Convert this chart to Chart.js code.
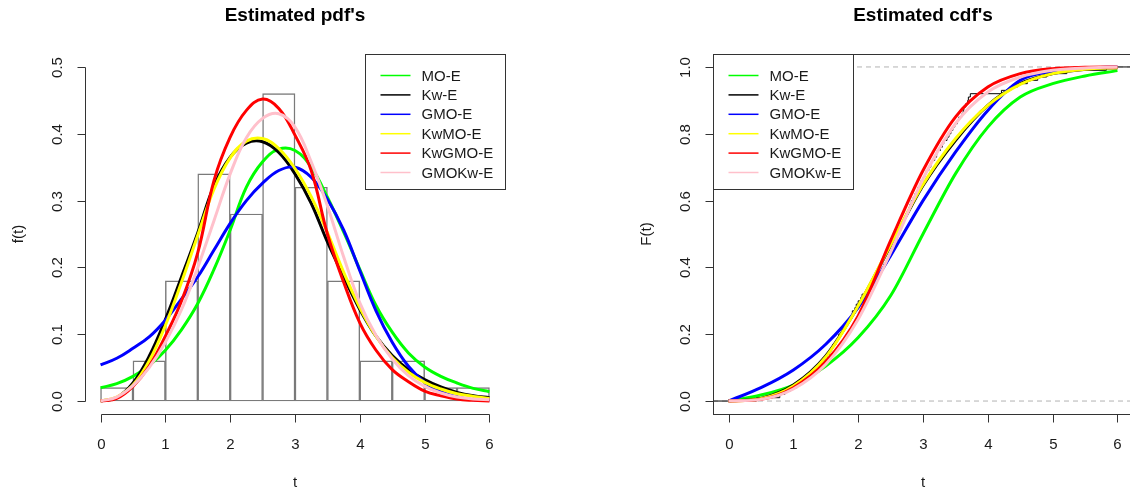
<!DOCTYPE html>
<html>
<head>
<meta charset="utf-8">
<script src="https://cdn.jsdelivr.net/npm/chart.js@4.4.1/dist/chart.umd.min.js"></script>
<style>
  html, body { margin: 0; padding: 0; background: #fff; overflow: hidden; width: 1130px; height: 492px; }
  canvas { position: absolute; top: 0; }
  #pdf { left: 0; }
  #cdf { left: 565px; }
</style>
</head>
<body>
<canvas id="pdf" width="565" height="492"></canvas>
<canvas id="cdf" width="575" height="492"></canvas>
<script>
// ---- data ----
const modelNames = ['MO-E', 'Kw-E', 'GMO-E', 'KwMO-E', 'KwGMO-E', 'GMOKw-E'];
const modelColors = ['#00ff00', '#000000', '#0000ff', '#ffff00', '#ff0000', '#ffc0cb'];

const xTicks = [0, 1, 2, 3, 4, 5, 6];
const xTickLabels = ['0', '1', '2', '3', '4', '5', '6'];
const pdfYTicks = [0, 0.1, 0.2, 0.3, 0.4, 0.5];
const pdfYTickLabels = ['0.0', '0.1', '0.2', '0.3', '0.4', '0.5'];
const cdfYTicks = [0, 0.2, 0.4, 0.6, 0.8, 1.0];
const cdfYTickLabels = ['0.0', '0.2', '0.4', '0.6', '0.8', '1.0'];

// histogram (density scale)
const histBreaks = [0, 0.5, 1, 1.5, 2, 2.5, 3, 3.5, 4, 4.5, 5, 5.5, 6];
const histDensity = [0.02, 0.06, 0.18, 0.34, 0.28, 0.46, 0.32, 0.18, 0.06, 0.06, 0.02, 0.02];

// fitted pdfs
const tPdf = [0, 0.25, 0.5, 0.75, 1, 1.25, 1.5, 1.75, 2, 2.25, 2.5, 2.75, 3,
              3.25, 3.5, 3.75, 4, 4.25, 4.5, 4.75, 5, 5.25, 5.5, 5.75, 6];
const pdfMOE    = [0.020, 0.026, 0.037, 0.053, 0.076, 0.107, 0.146, 0.197, 0.256, 0.320, 0.358, 0.377, 0.375,
                   0.350, 0.305, 0.253, 0.197, 0.143, 0.103, 0.072, 0.051, 0.037, 0.027, 0.019, 0.014];
const pdfKwE    = [0.000, 0.005, 0.027, 0.067, 0.122, 0.186, 0.252, 0.322, 0.365, 0.386, 0.388, 0.372, 0.340,
                   0.296, 0.238, 0.186, 0.137, 0.097, 0.068, 0.047, 0.032, 0.021, 0.013, 0.008, 0.005];
const pdfGMOE   = [0.054, 0.064, 0.079, 0.096, 0.121, 0.153, 0.186, 0.226, 0.266, 0.300, 0.326, 0.345, 0.350,
                   0.335, 0.302, 0.256, 0.195, 0.135, 0.088, 0.052, 0.028, 0.014, 0.006, 0.002, 0.001];
const pdfKwMOE  = [0.000, 0.006, 0.024, 0.060, 0.113, 0.178, 0.248, 0.317, 0.364, 0.389, 0.393, 0.378, 0.348,
                   0.306, 0.252, 0.193, 0.140, 0.097, 0.065, 0.043, 0.028, 0.018, 0.011, 0.007, 0.004];
const pdfKwGMOE = [0.000, 0.004, 0.022, 0.052, 0.097, 0.150, 0.222, 0.330, 0.395, 0.435, 0.452, 0.438, 0.398,
                   0.345, 0.250, 0.178, 0.117, 0.076, 0.047, 0.029, 0.015, 0.008, 0.003, 0.001, 0.000];
const pdfGMOKwE = [0.000, 0.006, 0.023, 0.050, 0.088, 0.137, 0.200, 0.270, 0.340, 0.394, 0.423, 0.430, 0.410,
                   0.358, 0.292, 0.216, 0.147, 0.098, 0.063, 0.038, 0.022, 0.012, 0.006, 0.003, 0.002];

// fitted cdfs
const tCdf = [0, 0.5, 1, 1.5, 2, 2.5, 3, 3.5, 4, 4.5, 5, 5.5, 6];
const cdfMOE    = [0, 0.018, 0.048, 0.105, 0.190, 0.315, 0.500, 0.680, 0.820, 0.910, 0.950, 0.973, 0.989];
const cdfKwE    = [0, 0.008, 0.048, 0.135, 0.285, 0.465, 0.645, 0.780, 0.885, 0.950, 0.980, 0.993, 0.998];
const cdfGMOE   = [0, 0.040, 0.093, 0.170, 0.280, 0.435, 0.600, 0.745, 0.870, 0.960, 0.987, 0.996, 1.000];
const cdfKwMOE  = [0, 0.007, 0.045, 0.132, 0.285, 0.468, 0.648, 0.785, 0.885, 0.948, 0.980, 0.993, 0.998];
const cdfKwGMOE = [0, 0.005, 0.040, 0.118, 0.255, 0.480, 0.690, 0.850, 0.940, 0.980, 0.995, 0.999, 1.000];
const cdfGMOKwE = [0, 0.005, 0.036, 0.110, 0.245, 0.445, 0.665, 0.830, 0.925, 0.970, 0.990, 0.997, 1.000];

// sample behind the empirical cdf (sorted)
const ecdfObs = [
  0.43,
  0.79, 0.87, 0.96,
  1.06, 1.13, 1.19, 1.23, 1.30, 1.34, 1.39, 1.43, 1.49,
  1.52, 1.56, 1.59, 1.61, 1.66, 1.69, 1.70, 1.75, 1.78, 1.81, 1.82, 1.87, 1.90, 1.91, 1.95, 1.97, 2.00,
  2.04, 2.06, 2.12, 2.15, 2.17, 2.22, 2.26, 2.28, 2.34, 2.37, 2.39, 2.44, 2.47, 2.50,
  2.51, 2.54, 2.55, 2.58, 2.60, 2.61, 2.64, 2.66, 2.67, 2.70, 2.72, 2.73, 2.76, 2.78, 2.80, 2.82,
  2.85, 2.87, 2.90, 2.92, 2.95, 2.97, 3.00,
  3.03, 3.05, 3.09, 3.12, 3.13, 3.18, 3.21, 3.22, 3.27, 3.30, 3.32, 3.37, 3.40, 3.43, 3.46, 3.49,
  3.53, 3.55, 3.60, 3.62, 3.63, 3.66, 3.69, 3.70, 3.73,
  4.21, 4.34, 4.46,
  4.61, 4.77, 4.91,
  5.22,
  5.83
];

const xLimits = [-0.24, 6.24];
const pdfYLimits = [-0.02, 0.52];
const cdfYLimits = [-0.04, 1.04];

// ---- styling ----
const FONT = '"Liberation Sans", Arial, Helvetica, sans-serif';
const AXIS_COLOR = '#333';
const TEXT_COLOR = '#1a1a1a';

// R-like axes, box, titles and legend drawn from the chart's scales
const rAxes = {
  id: 'rAxes',
  afterDatasetsDraw(chart, args, o) {
    if (!o.box) return;
    const { ctx, chartArea: a } = chart;
    const l = Math.round(a.left) + 0.5, r = Math.round(a.right) + 0.5;
    const t = Math.round(a.top) + 0.5, b = Math.round(a.bottom) + 0.5;
    ctx.save();
    ctx.strokeStyle = AXIS_COLOR;
    ctx.lineWidth = 1;
    ctx.strokeRect(l, t, r - l, b - t);
    ctx.restore();
  },
  afterDraw(chart, args, o) {
    const { ctx, chartArea: a, scales: { x, y } } = chart;
    const bx = Math.round(a.bottom) + 0.5;
    const lx = Math.round(a.left) + 0.5;
    ctx.save();
    ctx.strokeStyle = AXIS_COLOR;
    ctx.fillStyle = TEXT_COLOR;
    ctx.lineWidth = 1;

    // x axis
    const xs = o.xTicks.map(v => Math.round(x.getPixelForValue(v)) + 0.5);
    ctx.beginPath();
    ctx.moveTo(xs[0], bx);
    ctx.lineTo(xs[xs.length - 1], bx);
    xs.forEach(px => { ctx.moveTo(px, bx); ctx.lineTo(px, bx + 8); });
    ctx.stroke();
    ctx.font = `15px ${FONT}`;
    ctx.textAlign = 'center';
    ctx.textBaseline = 'middle';
    xs.forEach((px, i) => ctx.fillText(o.xLabels[i], px, a.bottom + 30));

    // y axis
    const ys = o.yTicks.map(v => Math.round(y.getPixelForValue(v)) + 0.5);
    ctx.beginPath();
    ctx.moveTo(lx, ys[0]);
    ctx.lineTo(lx, ys[ys.length - 1]);
    ys.forEach(py => { ctx.moveTo(lx, py); ctx.lineTo(lx - 8, py); });
    ctx.stroke();
    ys.forEach((py, i) => {
      ctx.save();
      ctx.translate(a.left - 27.5, py);
      ctx.rotate(-Math.PI / 2);
      ctx.fillText(o.yLabels[i], 0, 0);
      ctx.restore();
    });

    // axis titles
    const cx = (a.left + a.right) / 2;
    ctx.fillText(o.xTitle, cx, a.bottom + 68);
    ctx.save();
    ctx.translate(a.left - 66, (a.top + a.bottom) / 2);
    ctx.rotate(-Math.PI / 2);
    ctx.fillText(o.yTitle, 0, 0);
    ctx.restore();

    // main title
    ctx.font = `bold 19px ${FONT}`;
    ctx.fillStyle = '#000';
    ctx.fillText(o.title, cx, 16);

    // legend box
    const items = chart.data.datasets.filter(d => d.inLegend);
    const w = 140, h = 135;
    const left = Math.round(o.legend === 'right' ? a.right - w : a.left) + 0.5;
    const top = Math.round(a.top) + 0.5;
    ctx.fillStyle = '#fff';
    ctx.fillRect(left, top, w, h);
    ctx.strokeStyle = AXIS_COLOR;
    ctx.strokeRect(left, top, w, h);
    ctx.font = `15px ${FONT}`;
    ctx.textAlign = 'left';
    items.forEach((d, i) => {
      const cy = top + 21 + i * 19.4;
      ctx.strokeStyle = d.borderColor;
      ctx.lineWidth = 1.5;
      ctx.beginPath();
      ctx.moveTo(left + 15, cy);
      ctx.lineTo(left + 45, cy);
      ctx.stroke();
      ctx.fillStyle = TEXT_COLOR;
      ctx.fillText(d.label, left + 56, cy + 1);
    });
    ctx.restore();
  }
};

function curve(i, t, values, smooth) {
  return {
    type: 'line',
    label: modelNames[i],
    data: t.map((v, k) => ({ x: v, y: values[k] })),
    borderColor: modelColors[i],
    backgroundColor: modelColors[i],
    borderWidth: 3,
    pointRadius: 0,
    fill: false,
    tension: smooth === 'monotone' ? 0 : 0.4,
    cubicInterpolationMode: smooth === 'monotone' ? 'monotone' : 'default',
    order: 6 - i,
    inLegend: true
  };
}

function xScale() {
  return {
    type: 'linear', min: xLimits[0], max: xLimits[1], display: false, offset: false,
    afterBuildTicks: s => { s.ticks = xTicks.map(v => ({ value: v })); }
  };
}

const basePlugins = { legend: { display: false }, title: { display: false }, tooltip: { enabled: false } };

// ---- left: estimated pdfs ----
const pdfSets = [pdfMOE, pdfKwE, pdfGMOE, pdfKwMOE, pdfKwGMOE, pdfGMOKwE];
new Chart(document.getElementById('pdf'), {
  type: 'bar',
  data: {
    datasets: [
      ...pdfSets.map((v, i) => curve(i, tPdf, v, 'spline')),
      {
        type: 'bar',
        label: 'hist',
        data: histDensity.map((d, i) => ({ x: (histBreaks[i] + histBreaks[i + 1]) / 2, y: d })),
        backgroundColor: 'rgba(255,255,255,0)',
        borderColor: '#7a7a7a',
        borderWidth: 0.8,
        borderSkipped: false,
        barPercentage: 1,
        categoryPercentage: 1,
        order: 10
      }
    ]
  },
  options: {
    responsive: false,
    animation: false,
    events: [],
    layout: { padding: { left: 85, right: 60, top: 53.6, bottom: 77.6 } },
    scales: {
      x: xScale(),
      y: { type: 'linear', min: pdfYLimits[0], max: pdfYLimits[1], display: false }
    },
    plugins: {
      ...basePlugins,
      rAxes: {
        title: "Estimated pdf's", xTitle: 't', yTitle: 'f(t)',
        xTicks, xLabels: xTickLabels, yTicks: pdfYTicks, yLabels: pdfYTickLabels,
        legend: 'right', box: false
      }
    }
  },
  plugins: [rAxes]
});

// ---- right: estimated cdfs ----
const cdfSets = [cdfMOE, cdfKwE, cdfGMOE, cdfKwMOE, cdfKwGMOE, cdfGMOKwE];
const n = ecdfObs.length;
const ecdfPoints = [{ x: xLimits[0] - 1, y: 0 }]
  .concat(ecdfObs.map((v, i) => ({ x: v, y: (i + 1) / n })))
  .concat([{ x: xLimits[1] + 1, y: 1 }]);

const refLine = level => ({
  type: 'line',
  label: 'ref' + level,
  data: xLimits.map(v => ({ x: v, y: level })),
  borderColor: '#b3b3b3',
  borderWidth: 1,
  borderDash: [5, 4],
  pointRadius: 0,
  order: 20
});

new Chart(document.getElementById('cdf'), {
  type: 'line',
  data: {
    datasets: [
      ...cdfSets.map((v, i) => curve(i, tCdf, v, 'monotone')),
      {
        type: 'line',
        label: 'ecdf',
        data: ecdfPoints,
        borderColor: '#000',
        borderWidth: 1,
        pointRadius: 0,
        stepped: 'before',
        order: 10
      },
      refLine(0),
      refLine(1)
    ]
  },
  options: {
    responsive: false,
    animation: false,
    events: [],
    layout: { padding: { left: 148, right: 7, top: 53.6, bottom: 77.6 } },
    scales: {
      x: xScale(),
      y: { type: 'linear', min: cdfYLimits[0], max: cdfYLimits[1], display: false }
    },
    plugins: {
      ...basePlugins,
      rAxes: {
        title: "Estimated cdf's", xTitle: 't', yTitle: 'F(t)',
        xTicks, xLabels: xTickLabels, yTicks: cdfYTicks, yLabels: cdfYTickLabels,
        legend: 'left', box: true
      }
    }
  },
  plugins: [rAxes]
});
</script>
</body>
</html>
